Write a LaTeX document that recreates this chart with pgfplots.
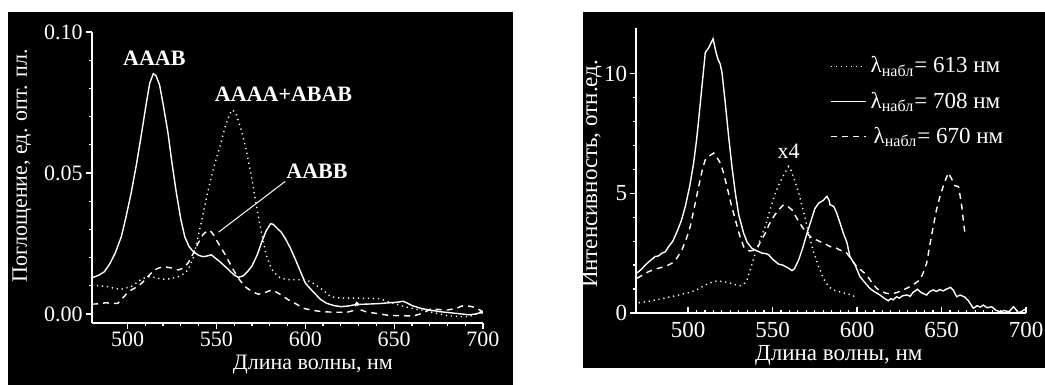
\documentclass[border=0pt]{standalone}
\usepackage{pgfplots}
\pgfplotsset{compat=1.18}
\usepackage{fontspec}
\setmainfont{Liberation Serif}

\pgfplotstableread{
x y
480 0.0128
484 0.0138
487 0.0150
490 0.0178
493 0.0215
496.5 0.0274
499 0.0340
502 0.0428
505 0.0530
508 0.0645
510.5 0.0745
512.5 0.0819
514.5 0.0852
516 0.0845
518 0.0813
520 0.0745
522.8 0.0640
525 0.0535
527.5 0.0428
530 0.0335
532.2 0.0274
534.5 0.0240
537 0.0221
540 0.0208
542.5 0.0203
545 0.0206
547.2 0.0210
549 0.0200
552 0.0185
555 0.0168
558 0.0150
560 0.0138
562.3 0.0130
565 0.0135
567.5 0.0150
570 0.0170
573 0.0210
575.5 0.0255
578 0.0295
580.5 0.0320
582 0.0318
584 0.0305
586.5 0.0290
589 0.0265
591.5 0.0235
594 0.0200
597 0.0155
600 0.0110
602.8 0.0090
605 0.0075
608.5 0.0052
612 0.0038
616 0.0030
620 0.0026
624 0.0028
628 0.0033
629 0.0040
630 0.0034
635 0.0035
642 0.0037
648 0.0040
652 0.0042
655 0.0045
657 0.0040
660 0.0030
665 0.0020
670 0.0014
676 0.0008
682 0.0004
688 0.0000
692 -0.0003
696 0.0000
698 0.0004
700 0.0004
}\absAAAB

\pgfplotstableread{
x y
480 0.0103
484 0.0100
489 0.0097
493 0.0090
496.5 0.0088
499 0.0092
502 0.0097
505 0.0110
508 0.0125
511.5 0.0132
515 0.0130
518 0.0125
521 0.0123
524 0.0125
528.5 0.0132
531 0.0140
534 0.0156
537 0.0200
539.7 0.0274
542.5 0.0355
545.4 0.0440
548.5 0.0520
552 0.0594
555 0.0665
557.5 0.0710
559 0.0724
561 0.0712
564 0.0653
567 0.0575
569.7 0.0488
572.5 0.0385
575.4 0.0286
578 0.0210
581 0.0160
583 0.0144
586 0.0127
590 0.0122
595 0.0122
600 0.0120
603 0.0115
607 0.0098
610 0.0085
614 0.0062
620 0.0056
630 0.0056
642 0.0054
646 0.0045
651.6 0.0034
656 0.0026
660 0.0020
665 0.0014
670 0.0008
675 0.0001
680 -0.0006
686 -0.0009
691 -0.0010
695 -0.0004
698.6 0.0008
700 0.0012
}\absAAAA

\pgfplotstableread{
x y
480 0.0035
484 0.0036
488 0.0040
491 0.0037
494.6 0.0038
497 0.0055
500 0.0075
502 0.0085
505 0.0095
508 0.0109
511 0.0130
515 0.0156
518 0.0164
522 0.0166
525 0.0163
528.5 0.0156
531 0.0162
534 0.0180
537 0.0215
539.7 0.0251
542.5 0.0282
545 0.0296
547 0.0292
549 0.0275
551 0.0251
555 0.0210
558.5 0.0168
562 0.0130
566 0.0097
570 0.0080
573.5 0.0070
577 0.0075
581 0.0085
583 0.0080
586.7 0.0067
590 0.0052
595 0.0035
599 0.0020
605 0.0012
610 0.0008
617 0.0006
623.5 0.0006
627 0.0012
629 0.0038
631 0.0015
634 0.0008
640 0.0002
646 -0.0004
652 -0.0006
661 -0.0007
666 0.0003
670.4 0.0017
675 0.0016
680 0.0014
685 0.0020
688 0.0028
692 0.0028
695 0.0024
698 0.0015
700 0.0008
}\absAABB

\pgfplotstableread{
x y
469.5 1.66
472 1.80
474.7 2.00
477 2.15
480.6 2.36
482.5 2.38
484.6 2.50
486.5 2.55
488.5 2.77
491 3.00
493.5 3.40
496 3.85
498.4 4.45
501 5.30
503.3 6.26
505 7.20
506.3 8.07
508 9.30
510.2 10.87
512 11.05
514.8 11.45
516.5 10.90
517.7 10.59
519 10.40
520.1 10.03
522 8.80
524 7.38
526 6.10
528 5.00
530 4.10
532.9 3.33
535 2.95
537.8 2.70
540 2.62
543.8 2.50
546 2.48
547.7 2.43
550 2.25
553.6 2.04
556 2.00
559.5 1.87
561.5 1.77
563 1.85
565.5 2.22
568 2.75
570.4 3.33
573 3.90
575 4.35
577.3 4.59
580 4.70
582.2 4.87
583.5 4.70
584 4.52
586.2 4.45
588 4.17
590 3.75
591.9 3.33
594 2.95
595.8 2.36
598.9 2.00
601.7 1.52
604.9 1.25
607.6 1.03
610 0.90
613.6 0.75
616 0.62
618.5 0.51
620 0.60
621.5 0.55
623.4 0.68
625 0.62
627 0.72
629.4 0.75
631.5 0.70
633 0.85
635.7 0.99
638 0.85
641.2 0.75
643 0.90
645.1 0.96
647 0.90
649 0.98
651 0.92
653 1.00
655.4 1.07
657 0.95
659 0.68
661 0.75
663.9 0.66
666 0.50
668.8 0.20
671 0.30
673 0.25
674.7 0.33
677 0.22
679.7 0.26
682 0.12
684.6 0.05
687 0.10
690 0.05
692.5 0.26
694 0.15
695.4 0.01
697 0.05
699.4 0.15
}\flSeven

\pgfplotstableread{
x y
469.8 1.45
473 1.58
476.7 1.73
480 1.82
483 1.88
486.5 1.94
490.5 2.08
493.5 2.30
496.4 2.64
499 3.10
501.3 3.61
504 4.50
506.3 5.28
508.5 6.00
510.2 6.40
512.5 6.55
515.2 6.68
517 6.50
519.1 6.26
521 5.85
523 5.28
525.5 4.55
528 3.89
530.5 3.25
532.9 2.77
535 2.62
536.8 2.59
539 2.62
541 2.70
543 3.00
545.7 3.33
548 3.70
550.7 4.03
553.5 4.30
556.6 4.52
559 4.45
561.5 4.31
564 4.00
567.4 3.61
570 3.35
573.3 3.13
576 3.05
579.3 2.94
582 2.85
584.2 2.77
588 2.70
591.9 2.56
594 2.50
596.5 2.25
599.8 1.94
602.5 1.78
605.7 1.59
608.5 1.30
611.6 1.03
614.5 0.90
617.5 0.82
620.5 0.80
623.4 0.85
627 0.95
631.3 1.10
634 1.22
637.2 1.38
639 1.65
641.2 2.08
643 2.80
645.1 3.61
647 4.30
649.1 4.87
651.5 5.40
654 5.85
656 5.60
658 5.31
660 5.28
661 4.90
662 4.45
663 3.80
664 3.26
}\flSix

\pgfplotstableread{
x y
470.8 0.43
476 0.48
482.6 0.57
488 0.65
494.5 0.75
502.3 0.89
506 1.00
510.2 1.17
514 1.28
517.1 1.34
520 1.32
524 1.27
527 1.20
530.9 1.14
533 1.20
534.9 1.38
537 1.85
539.8 2.50
542.5 3.05
545.7 3.61
548.5 4.30
551.6 5.00
554 5.40
556.5 5.75
559.5 6.12
561 5.95
563 5.55
565.5 5.00
568.5 4.20
571.4 3.33
574 2.60
577.3 1.94
580 1.45
583.2 1.10
586 0.96
590 0.88
594 0.80
597 0.75
599.5 0.65
}\flSixThree

\begin{document}
\begin{tikzpicture}
\fill[white] (0pt,0pt) rectangle (522.5pt,192.5pt);
\fill[black] (4pt,0pt) rectangle (256.5pt,186.5pt);
\fill[black] (291.5pt,8.5pt) rectangle (522.5pt,186.5pt);
\path[use as bounding box] (0pt,0pt) rectangle (522.5pt,192.5pt);

\pgfplotsset{
  blk/.style={
    scale only axis,
    axis x line*=bottom, axis y line*=left,
    axis line style={white, line width=0.6pt},
    every tick/.style={white, line width=0.6pt},
    ticklabel style={text=white},
    /pgf/number format/assume math mode=true,
    tick align=outside,
    major tick length=3pt, minor tick length=1.6pt,
    cycle list={{white}},
    every axis plot/.append style={white, line width=0.7pt, no marks},
    legend image code/.code={\draw[##1] (0pt,0pt) -- (17.5pt,0pt);},
  },
  dsh/.style={white, dash pattern=on 3pt off 2.5pt},
  dtt/.style={white, dash pattern=on 0.6pt off 1.9pt},
  sld/.style={white, solid},
}

% left panel
\begin{axis}[blk,
  at={(46pt,31pt)}, anchor=south west,
  width=195.5pt, height=145.5pt,
  xmin=480, xmax=700, ymin=-0.0032, ymax=0.10,
  xtick={500,550,600,650,700}, minor x tick num=4,
  ytick={0,0.05,0.1}, yticklabels={0.00,0.05,0.10}, minor y tick num=4,
  scaled y ticks=false,
  tick label style={font=\fontsize{11}{12}\selectfont},
  yticklabel style={inner sep=1.5pt},
  xticklabel style={inner sep=1pt},
  xlabel={Длина волны, нм},
  ylabel={Поглощение, ед. опт. пл.},
  every axis x label/.style={at={(axis description cs:0.565,-0.142)}, anchor=center, inner sep=0pt, text=white, font=\fontsize{11}{13}\selectfont},
  every axis y label/.style={at={(axis description cs:-0.179,0.54)}, rotate=90, anchor=center, inner sep=0pt, text=white, font=\fontsize{11}{13}\selectfont},
]
\addplot[sld] table[x=x,y=y] {\absAAAB};
\addplot[dtt] table[x=x,y=y] {\absAAAA};
\addplot[dsh] table[x=x,y=y] {\absAABB};
\draw[white, line width=0.5pt] (axis cs:551.2,0.029) -- (axis cs:588.7,0.047);
\node[text=white, font=\bfseries\fontsize{11}{13}\selectfont] at (axis cs:515.1,0.0908) {AAAB};
\node[text=white, font=\bfseries\fontsize{11}{13}\selectfont] at (axis cs:587.8,0.078) {AAAA+ABAB};
\node[text=white, font=\bfseries\fontsize{11}{13}\selectfont] at (axis cs:606.6,0.0505) {AABB};
\end{axis}

% right panel
\begin{axis}[blk,
  at={(318pt,36pt)}, anchor=south west,
  width=195pt, height=142.5pt,
  xmin=469.2, xmax=700, ymin=0, ymax=11.9,
  xtick={500,550,600,650,700}, minor x tick num=9,
  ytick={0,5,10}, minor y tick num=4,
  every major x tick/.append style={yshift=3pt},
  every minor x tick/.append style={yshift=1.6pt},
  tick label style={font=\fontsize{11.5}{13}\selectfont},
  xticklabel style={inner sep=1.5pt},
  yticklabel style={inner sep=1.2pt},
  xlabel={Длина волны, нм},
  ylabel={Интенсивность, отн.ед.},
  every axis x label/.style={at={(axis description cs:0.52,-0.15)}, anchor=center, inner sep=0pt, text=white, font=\fontsize{11.5}{13}\selectfont},
  every axis y label/.style={at={(axis description cs:-0.113,0.488)}, rotate=90, anchor=center, inner sep=0pt, text=white, font=\fontsize{11.5}{13}\selectfont},
  legend style={at={(axis description cs:0.497,0.915)}, anchor=north west, draw=none, fill=none, text=white, inner sep=0pt, row sep=4pt, font=\fontsize{11.5}{13}\selectfont},
  legend cell align=left,
]
\addplot[dtt] table[x=x,y=y] {\flSixThree};
\addlegendentry{λ\textsubscript{набл}= 613 нм}
\addplot[sld] table[x=x,y=y] {\flSeven};
\addlegendentry{λ\textsubscript{набл}= 708 нм}
\addplot[dsh] table[x=x,y=y] {\flSix};
\addlegendentry{\hspace{1.5pt}λ\textsubscript{набл}= 670 нм}
\node[text=white, font=\fontsize{11}{13}\selectfont] at (axis cs:559.5,6.75) {x4};
\end{axis}
\end{tikzpicture}
\end{document}
